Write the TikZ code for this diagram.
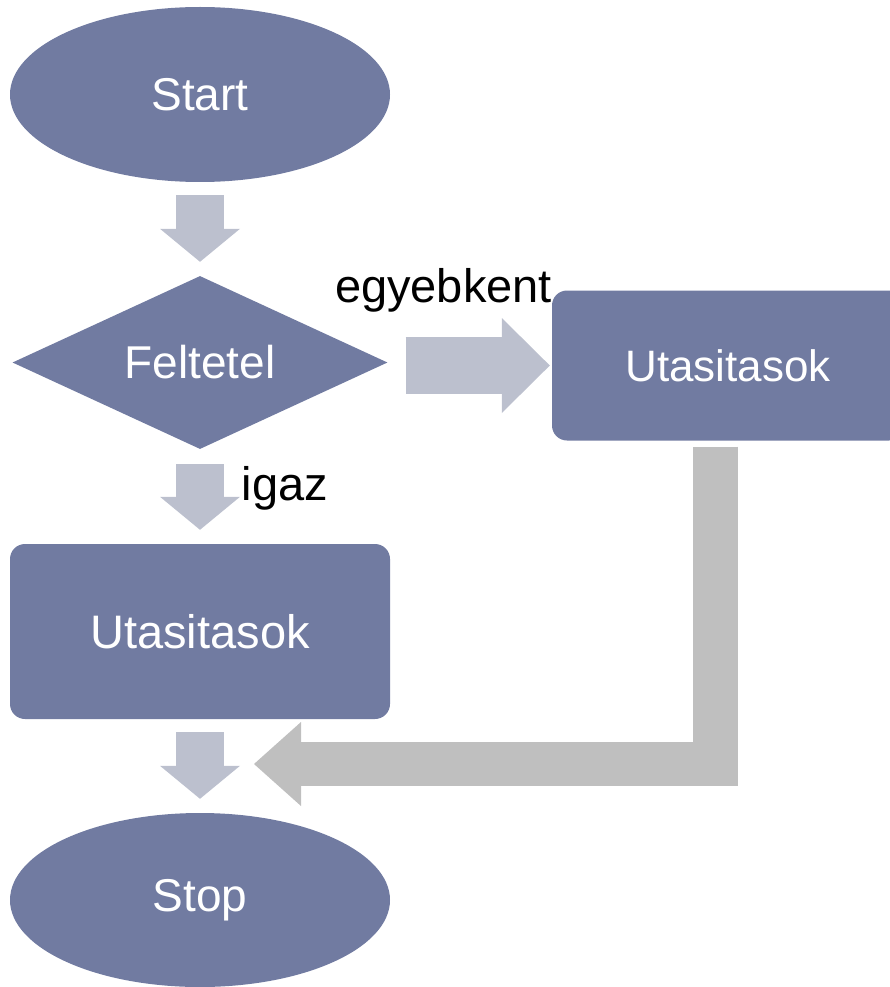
\documentclass[tikz,border=0pt]{standalone}
\usepackage{fontspec}
\setmainfont{Liberation Sans}
\usetikzlibrary{shapes.geometric,arrows.meta}

\definecolor{boxfill}{RGB}{113,123,161}
\definecolor{flowarrow}{RGB}{188,192,206}
\definecolor{returnarrow}{RGB}{191,191,191}

\tikzset{
  shapebase/.style={fill=boxfill, draw=none, text=white, inner sep=0pt,
    font=\fontsize{46}{55}\selectfont},
  terminal/.style={shapebase, ellipse, minimum width=380pt, minimum height=175pt},
  decision/.style={shapebase, diamond, shape aspect=2.2,
    minimum width=375pt, minimum height=173pt},
  process/.style={shapebase, rectangle, rounded corners=15pt},
  flowlabel/.style={inner sep=0pt, text=black, font=\fontsize{47}{56}\selectfont},
  blockdown/.style={draw=flowarrow, line width=48pt,
    -{Triangle[width=80pt,length=33pt,line width=0pt]}},
  blockright/.style={draw=flowarrow, line width=57pt,
    -{Triangle[width=95pt,length=48pt,line width=0pt]}},
  blockreturn/.style={draw=returnarrow, line width=44.5pt, line join=miter,
    -{Triangle[width=84pt,length=47pt,line width=0pt]}},
}

\begin{document}
\begin{tikzpicture}[x=1pt, y=-1pt]
  \useasboundingbox (0,0) rectangle (890,987);
  \clip (0,0) rectangle (890,987);

  % flowchart shapes
  \node[terminal] (start) at (200,94.5) {Start};
  \node[decision] (cond) at (200,362.5) {Feltetel};
  \node[process, minimum width=352pt, minimum height=150pt] (rbox) at (728,365.5) {\fontsize{44}{53}\selectfont Utasitasok};
  \node[process, minimum width=380pt, minimum height=175pt] (lbox) at (200,631.5) {\fontsize{47}{56}\selectfont Utasitasok};
  \node[terminal, minimum height=174pt] (stop) at (200,900) {Stop};

  % block arrows between the shapes
  \draw[blockdown, shorten <=13pt, shorten >=14pt] (start.south) -- (cond.north);
  \draw[blockdown, shorten <=15pt, shorten >=14pt] (cond.south) -- (lbox.north);
  \draw[blockdown, shorten <=13pt, shorten >=14pt] (lbox.south) -- (stop.north);
  \draw[blockright, shorten <=18pt, shorten >=2pt] (cond.east |- rbox.west) -- (rbox.west);

  % return path from the right-hand branch
  \coordinate (bend) at (715.5,764);
  \coordinate (backtip) at (254,764);
  \draw[blockreturn, shorten <=6pt] (bend |- rbox.south) -- (bend) -- (backtip);

  % branch labels
  \node[flowlabel, anchor=base] (lblelse) at (443.5,302) {egyebkent};
  \node[flowlabel, anchor=base] (lbltrue) at (285,500) {igaz};
\end{tikzpicture}
\end{document}
